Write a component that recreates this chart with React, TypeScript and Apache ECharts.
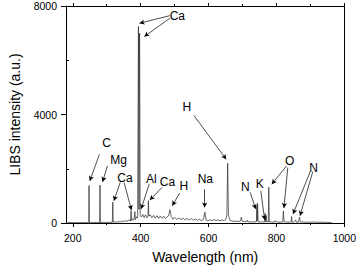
import React, { useEffect, useRef } from "react";
import * as echarts from "echarts";

// Spectrum (wavelength in nm, LIBS intensity in a.u.)
const wavelength = [
  185, 200, 220, 240, 247, 247.9, 248.8, 260, 270, 279,
  280.2, 281.2, 290, 300, 310, 316.5, 317.9, 319.2, 325, 330,
  335, 340, 345, 350, 355, 360, 365, 370, 371.8, 373.2,
  376, 380, 382.8, 384.5, 388, 391, 393.4, 395, 396.8, 398.5,
  402, 406, 410, 414, 418, 421.5, 422.7, 424, 428, 433,
  438, 443, 448, 453, 458, 463, 468, 473, 478, 482,
  486.1, 490, 495, 501, 507, 513, 519, 525, 531, 537,
  543, 549, 555, 561, 567, 573, 579, 585, 589, 593,
  598, 604, 610, 616, 622, 628, 634, 640, 646, 651,
  654, 656.3, 658.5, 663, 670, 680, 690, 694, 696.5, 699,
  705, 712, 714, 716, 725, 735, 741, 742.4, 743.4, 744.5,
  746, 752, 760, 765.5, 766.5, 767.8, 769.9, 771.5, 776, 777.4,
  779, 785, 790, 795, 797, 800, 808, 815, 818.5, 820.5,
  822.5, 830, 838, 843.5, 844.6, 846, 850, 856.8, 858.5, 864,
  868.3, 870, 878, 888, 900, 912, 925, 938, 950, 963,
];
const intensity = [
  15, 15, 12, 15, 15, 1380, 15, 15, 18, 18,
  1400, 18, 25, 20, 25, 30, 770, 30, 40, 30,
  50, 40, 70, 50, 90, 60, 110, 80, 460, 90,
  150, 110, 420, 130, 230, 180, 7250, 500, 7000, 280,
  220, 320, 200, 300, 190, 260, 820, 250, 300, 190,
  280, 180, 270, 170, 260, 170, 250, 160, 230, 260,
  490, 240, 140, 200, 130, 190, 120, 180, 110, 170,
  110, 160, 100, 150, 100, 140, 90, 120, 400, 100,
  80, 120, 90, 130, 90, 120, 80, 110, 90, 130,
  300, 2200, 300, 100, 70, 60, 60, 80, 210, 70,
  50, 45, 100, 45, 40, 40, 50, 620, 80, 720,
  50, 40, 40, 40, 360, 40, 260, 40, 40, 1320,
  40, 35, 35, 40, 90, 35, 30, 35, 40, 440,
  40, 35, 30, 40, 240, 35, 30, 110, 30, 30,
  210, 30, 40, 25, 30, 35, 25, 30, 20, 15,
];

// Axis ticks
const xMajorTicks = [200, 400, 600, 800, 1000];
const xMinorTicks = [300, 500, 700, 900];
const yMinorTicks = [2000, 6000];

// Peak annotations (label positions in data units)
const annotationLabels = ["Ca", "H", "C", "Mg", "Ca", "Al", "Ca", "H", "Na", "N", "K", "O", "N"];
const annotationX = [508, 536, 299.2, 335.2, 353.9, 431.7, 478.8, 527.0, 590.6, 708.6, 751.2, 839.1, 909.2];
const annotationY = [7633, 4294, 2961, 2312, 1677, 1615, 1494, 1347, 1615, 1310, 1431, 2286, 2044];

// Arrows (start -> end, data units)
const arrowStart = [
  [486, 7644], [486, 7549], [557, 3963], [278.5, 2532], [302, 2103],
  [339.7, 1494], [351.1, 1494], [424.9, 1431], [462.9, 1310], [514.8, 1101],
  [588.6, 1248], [722.8, 1127], [754, 1185], [829.8, 2103], [833.4, 2044],
  [899.8, 1897], [907.2, 1897],
];
const arrowEnd = [
  [396.5, 7365], [410.7, 6873], [651.9, 2349], [250.1, 1552], [287.8, 1516],
  [321, 818], [372.9, 477], [401.3, 514], [426.9, 844], [493, 635],
  [588.6, 576], [739, 514], [765.3, 110], [786.3, 1431], [822.1, 550],
  [848.8, 330], [869.5, 268],
];

const FONT = "'Liberation Sans', Arial, Helvetica, sans-serif";

export default function App() {
  const ref = useRef<HTMLDivElement>(null);

  useEffect(() => {
    if (!ref.current) return;
    const chart = echarts.init(ref.current, null, { renderer: "svg" });

    const seriesData = wavelength.map((w, i) => [w, intensity[i]]);
    const axisLineStyle = { color: "#000", width: 1 };
    const plain = (v: number) => String(v);

    const baseX = { type: "value", min: 180, max: 1000, gridIndex: 0, splitLine: { show: false } };
    const baseY = { type: "value", min: 0, max: 8000, gridIndex: 0, splitLine: { show: false } };

    chart.setOption({
      animation: false,
      backgroundColor: "#fff",
      textStyle: { fontFamily: FONT, color: "#000" },
      grid: { left: 57, right: 13, top: 6, bottom: 45, containLabel: false },
      xAxis: [
        {
          ...baseX,
          position: "bottom",
          axisLine: { show: true, lineStyle: axisLineStyle, onZero: false },
          axisTick: { show: true, customValues: xMajorTicks, length: 4, lineStyle: axisLineStyle },
          axisLabel: { customValues: xMajorTicks, formatter: plain, fontSize: 10.5, color: "#000", margin: 9, fontFamily: FONT },
          name: "Wavelength (nm)",
          nameLocation: "middle",
          nameGap: 27,
          nameTextStyle: { fontSize: 14, color: "#000", fontFamily: FONT },
        },
        {
          ...baseX,
          position: "bottom",
          axisLine: { show: false, onZero: false },
          axisTick: { show: true, customValues: xMinorTicks, length: 2, lineStyle: axisLineStyle },
          axisLabel: { show: false },
        },
        {
          ...baseX,
          position: "top",
          axisLine: { show: true, lineStyle: axisLineStyle, onZero: false },
          axisTick: { show: true, customValues: xMajorTicks, length: 3, lineStyle: axisLineStyle },
          axisLabel: { show: false },
        },
        {
          ...baseX,
          position: "top",
          axisLine: { show: false, onZero: false },
          axisTick: { show: true, customValues: xMinorTicks, length: 2, lineStyle: axisLineStyle },
          axisLabel: { show: false },
        },
      ],
      yAxis: [
        {
          ...baseY,
          position: "left",
          interval: 4000,
          axisLine: { show: true, lineStyle: axisLineStyle, onZero: false },
          axisTick: { show: true, length: 5, lineStyle: axisLineStyle },
          axisLabel: { formatter: plain, fontSize: 10.5, color: "#000", margin: 9, fontFamily: FONT },
          name: "LIBS intensity (a.u.)",
          nameLocation: "middle",
          nameGap: 44,
          nameTextStyle: { fontSize: 14, color: "#000", fontFamily: FONT },
        },
        {
          ...baseY,
          position: "right",
          axisLine: { show: true, lineStyle: axisLineStyle, onZero: false },
          axisTick: { show: false },
          axisLabel: { show: false },
        },
        {
          ...baseY,
          position: "left",
          axisLine: { show: false, onZero: false },
          axisTick: { show: true, inside: true, customValues: yMinorTicks, length: 3, lineStyle: axisLineStyle },
          axisLabel: { show: false },
        },
      ],
      series: [
        {
          type: "line",
          xAxisIndex: 0,
          yAxisIndex: 0,
          data: seriesData,
          showSymbol: false,
          symbol: "none",
          silent: true,
          lineStyle: { color: "#2a2a2a", width: 0.7 },
          markLine: {
            silent: true,
            symbol: ["none", "arrow"],
            symbolSize: [4, 5],
            label: { show: false },
            lineStyle: { color: "#000", width: 0.7, type: "solid" },
            data: arrowStart.map((s, i) => [{ coord: s }, { coord: arrowEnd[i] }]),
          },
          markPoint: {
            silent: true,
            symbol: "rect",
            symbolSize: 1,
            itemStyle: { color: "rgba(0,0,0,0)" },
            label: {
              show: true,
              position: "inside",
              formatter: "{b}",
              fontSize: 12,
              color: "#000",
              fontFamily: FONT,
            },
            data: annotationLabels.map((name, i) => ({
              name,
              coord: [annotationX[i], annotationY[i]],
              value: name,
            })),
          },
        },
      ],
    });

    return () => chart.dispose();
  }, []);

  return (
    <div
      ref={ref}
      style={{ position: "fixed", left: 0, top: 0, width: 359, height: 269, background: "#fff" }}
    />
  );
}
